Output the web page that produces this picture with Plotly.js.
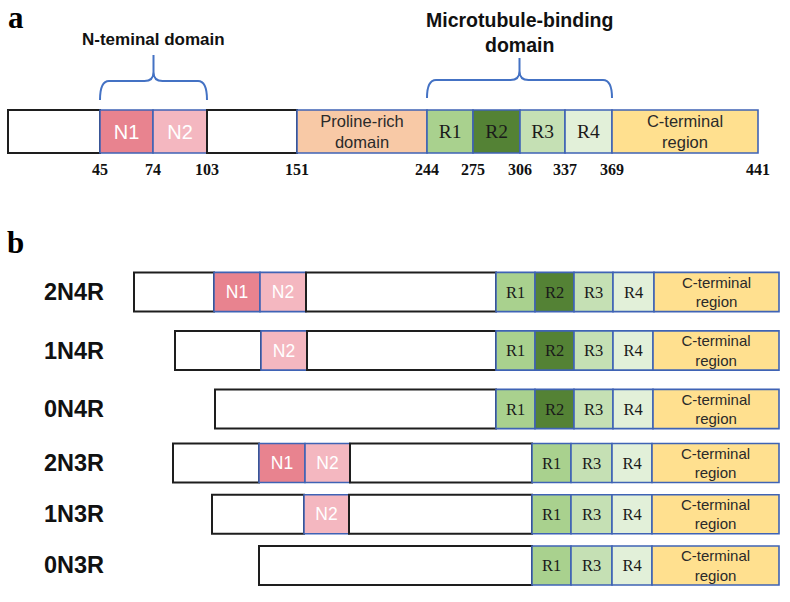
<!DOCTYPE html>
<html>
<head>
<meta charset="utf-8">
<script src="https://cdn.plot.ly/plotly-3.0.1.min.js"></script>
<style>html,body{margin:0;padding:0;background:#fff;}#chart{width:790px;height:602px;}</style>
</head>
<body>
<div id="chart"></div>
<script>
// ---------- DATA ----------
// Panel a: full-length tau (2N4R), schematic segment lengths as drawn, and residue numbers at segment ends
const segKeysA   = ['blank','N1','N2','blank','PRD','R1','R2','R3','R4','CT'];
const segLenA    = [92, 53, 54, 90, 130, 46, 47, 45, 47, 146];
const residueEnd = [45, 74, 103, 151, 244, 275, 306, 337, 369, 441];

// Panel b: six isoforms (schematic segment lengths as drawn, right-aligned)
const isoforms4R = ['2N4R', '1N4R', '0N4R'];
const isoforms3R = ['2N3R', '1N3R', '0N3R'];

const seg2N4R = ['blank','N1','N2','blank','R1','R2','R3','R4','CT'];
const len2N4R = [80, 46, 46, 190, 39, 39, 39, 41, 125];
const seg1N4R = ['blank','N2','blank','R1','R2','R3','R4','CT'];
const len1N4R = [86, 46, 189, 39, 39, 39, 40, 126];
const seg0N4R = ['blank','R1','R2','R3','R4','CT'];
const len0N4R = [281, 39, 39, 39, 40, 126];
const seg2N3R = ['blank','N1','N2','blank','R1','R3','R4','CT'];
const len2N3R = [86, 46, 45, 182, 39, 41, 40, 127];
const seg1N3R = ['blank','N2','blank','R1','R3','R4','CT'];
const len1N3R = [92, 45, 183, 39, 41, 40, 127];
const seg0N3R = ['blank','R1','R3','R4','CT'];
const len0N3R = [273, 39, 41, 40, 127];

// ---------- STYLE ----------
const SANS = 'Arial, "Liberation Sans", sans-serif';
const SERIF = '"Times New Roman", "Liberation Serif", serif';
const BLUE = '#3f63b5';
const STYLE = {
  blank: {fill:'#ffffff', line:'#1e1e1e', lw:2,   text:'',                       fam:SANS,  col:'#000',    sa:12, sb:12},
  N1:    {fill:'#e8838f', line:BLUE,      lw:1.6, text:'N1',                     fam:SANS,  col:'#ffffff', sa:20, sb:17.5},
  N2:    {fill:'#f4b7c0', line:BLUE,      lw:1.6, text:'N2',                     fam:SANS,  col:'#ffffff', sa:20, sb:17.5},
  PRD:   {fill:'#f8c9a6', line:BLUE,      lw:1.6, text:'Proline-rich<br>domain', fam:SANS,  col:'#2a2a2a', sa:16.5, sb:14},
  R1:    {fill:'#a9d18e', line:BLUE,      lw:1.6, text:'R1',                     fam:SERIF, col:'#1a1a1a', sa:19.5, sb:16.5},
  R2:    {fill:'#548235', line:BLUE,      lw:1.6, text:'R2',                     fam:SERIF, col:'#1a1a1a', sa:19.5, sb:16.5},
  R3:    {fill:'#c5e0b4', line:BLUE,      lw:1.6, text:'R3',                     fam:SERIF, col:'#1a1a1a', sa:19.5, sb:16.5},
  R4:    {fill:'#e2f0d9', line:BLUE,      lw:1.6, text:'R4',                     fam:SERIF, col:'#1a1a1a', sa:19.5, sb:16.5},
  CT:    {fill:'#ffe08f', line:BLUE,      lw:1.6, text:'C-terminal<br>region',   fam:SANS,  col:'#2a2a2a', sa:16.5, sb:15}
};

function buildTrace(rows, xa, ya, barWidth, sizeKey, alignRight) {
  const x=[], base=[], y=[], fill=[], lc=[], lw=[], text=[], ff=[], fs=[], fc=[];
  rows.forEach(r => {
    const total = r.lens.reduce((a,b)=>a+b, 0);
    let pos = alignRight ? -total : 0;
    r.keys.forEach((k,i) => {
      const s = STYLE[k];
      x.push(r.lens[i]); base.push(pos); pos += r.lens[i];
      y.push(r.name);
      fill.push(s.fill); lc.push(s.line); lw.push(s.lw);
      text.push(s.text); ff.push(s.fam); fs.push(s[sizeKey]); fc.push(s.col);
    });
  });
  return {
    type:'bar', orientation:'h', x:x, base:base, y:y, width:barWidth,
    xaxis:xa, yaxis:ya,
    marker:{color:fill, line:{color:lc, width:lw}},
    text:text, textposition:'inside', insidetextanchor:'middle', textangle:0,
    constraintext:'none',
    textfont:{family:ff, size:fs, color:fc},
    insidetextfont:{family:ff, size:fs, color:fc},
    hoverinfo:'skip', showlegend:false
  };
}

const traceA = buildTrace([{name:'2N4R full', keys:segKeysA, lens:segLenA}], 'x', 'y', 0.8, 'sa', false);
const trace4R = buildTrace([
  {name:isoforms4R[0], keys:seg2N4R, lens:len2N4R},
  {name:isoforms4R[1], keys:seg1N4R, lens:len1N4R},
  {name:isoforms4R[2], keys:seg0N4R, lens:len0N4R}
], 'x2', 'y2', 0.67, 'sb', true);
const trace3R = buildTrace([
  {name:isoforms3R[0], keys:seg2N3R, lens:len2N3R},
  {name:isoforms3R[1], keys:seg1N3R, lens:len1N3R},
  {name:isoforms3R[2], keys:seg0N3R, lens:len0N3R}
], 'x2', 'y3', 0.76, 'sb', true);

// cumulative boundaries for panel a
const cumA = [];
segLenA.reduce((acc,v) => { cumA.push(acc+v); return acc+v; }, 0);
const startOf = i => (i===0 ? 0 : cumA[i-1]);

const H = 602;
const py = p => 1 - p/H;

function bracePath(x0, x1, yTip, yH, yStem, r) {
  const xm = (x0+x1)/2;
  const Y = py;
  return `M ${x0},${Y(yTip)} Q ${x0},${Y(yH)} ${x0+r},${Y(yH)} L ${xm-r},${Y(yH)} Q ${xm},${Y(yH)} ${xm},${Y(yH-r)} L ${xm},${Y(yStem)} ` +
         `M ${xm},${Y(yH-r)} Q ${xm},${Y(yH)} ${xm+r},${Y(yH)} L ${x1-r},${Y(yH)} Q ${x1},${Y(yH)} ${x1},${Y(yTip)}`;
}

const nStart = startOf(segKeysA.indexOf('N1')), nEnd = cumA[segKeysA.indexOf('N2')];
const rStart = startOf(segKeysA.indexOf('R1')), rEnd = cumA[segKeysA.indexOf('R4')];

const shapes = [
  {type:'path', xref:'x', yref:'paper', path:bracePath(nStart, nEnd, 100, 81, 55, 9), line:{color:'#4472c4', width:2}},
  {type:'path', xref:'x', yref:'paper', path:bracePath(rStart, rEnd, 98, 80, 58, 9), line:{color:'#4472c4', width:2}}
];

const annotations = [
  {text:'<b>a</b>', xref:'paper', yref:'paper', x:6/790, y:py(-2), xanchor:'left', yanchor:'top', showarrow:false,
   font:{family:SERIF, size:31, color:'#000'}},
  {text:'<b>b</b>', xref:'paper', yref:'paper', x:5/790, y:py(223), xanchor:'left', yanchor:'top', showarrow:false,
   font:{family:SERIF, size:31, color:'#000'}},
  {text:'<b>N-teminal domain</b>', xref:'x', yref:'paper', x:(nStart+nEnd)/2, y:py(40), xanchor:'center', yanchor:'middle', showarrow:false,
   font:{family:SANS, size:17, color:'#111'}},
  {text:'<b>Microtubule-binding<br>domain</b>', xref:'x', yref:'paper', x:(rStart+rEnd)/2, y:py(33), xanchor:'center', yanchor:'middle', showarrow:false,
   font:{family:SANS, size:19.5, color:'#111'}}
];
isoforms4R.forEach(n => annotations.push({text:'<b>'+n+'</b>', xref:'paper', yref:'y2', x:42/790, y:n, xanchor:'left', yanchor:'middle', showarrow:false, font:{family:SANS, size:23.5, color:'#111'}}));
isoforms3R.forEach(n => annotations.push({text:'<b>'+n+'</b>', xref:'paper', yref:'y3', x:42/790, y:n, xanchor:'left', yanchor:'middle', showarrow:false, font:{family:SANS, size:23.5, color:'#111'}}));

const layout = {
  width:790, height:602, margin:{l:0, r:0, t:0, b:0, pad:0},
  paper_bgcolor:'#ffffff', plot_bgcolor:'rgba(0,0,0,0)',
  barmode:'overlay', showlegend:false,
  xaxis:{domain:[0,1], range:[-8,782], anchor:'y', showgrid:false, zeroline:false, showline:false, ticks:'',
         tickmode:'array', tickvals:cumA, ticktext:residueEnd.map(v=>'<b>'+v+'</b>'),
         tickfont:{family:SERIF, size:16, color:'#111'}, fixedrange:true},
  yaxis:{domain:[py(158.375), py(104.625)], type:'category', range:[-0.5,0.5], anchor:'x', visible:false, fixedrange:true},
  xaxis2:{domain:[0,1], range:[-779,11], anchor:'y2', visible:false, fixedrange:true},
  yaxis2:{domain:[py(438.25), py(262.75)], type:'category', categoryorder:'array', categoryarray:isoforms4R, range:[2.5,-0.5], anchor:'x2', visible:false, fixedrange:true},
  yaxis3:{domain:[py(591.1), py(437.4)], type:'category', categoryorder:'array', categoryarray:isoforms3R, range:[2.5,-0.5], anchor:'x2', visible:false, fixedrange:true},
  shapes:shapes, annotations:annotations,
  font:{family:SANS}
};

Plotly.newPlot('chart', [traceA, trace4R, trace3R], layout, {staticPlot:true, displayModeBar:false});
</script>
</body>
</html>
